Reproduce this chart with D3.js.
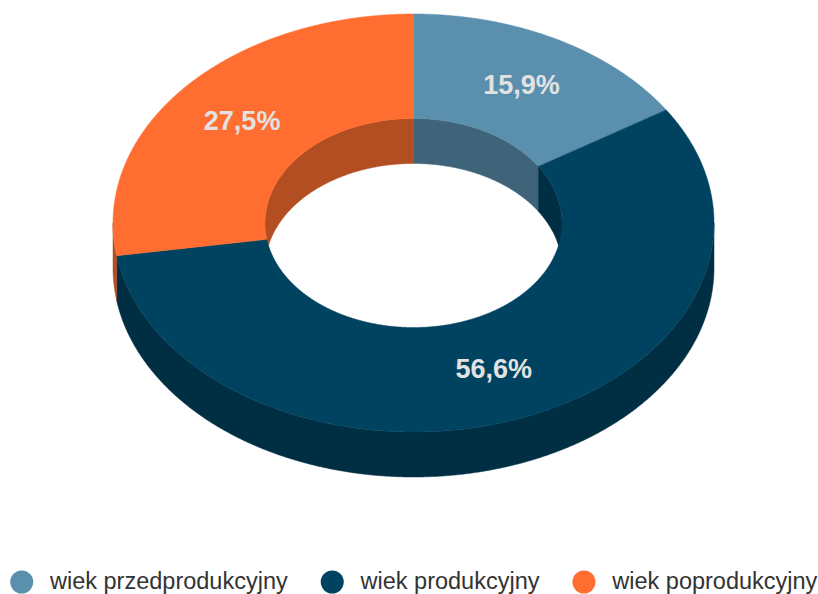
<!DOCTYPE html>
<html>
<head>
<meta charset="utf-8">
<script src="https://cdn.jsdelivr.net/npm/d3@7"></script>
<style>
  html, body { margin: 0; padding: 0; background: #ffffff; }
  svg { display: block; }
</style>
</head>
<body>
<svg id="chart" width="818" height="594"></svg>
<script>
// ---- data ----
const categories = ["wiek przedprodukcyjny", "wiek produkcyjny", "wiek poprodukcyjny"];
const values = [15.9, 56.6, 27.5];
const palette = ["#5a8fad", "#004360", "#ff6e30"];

// ---- layout ----
const W = 818, H = 594;
const cx = 413.5, cy = 223;
const rx = 300.5, ry = 209;
const depth = 45;
const irx = 148.5, iry = 104.5;

const svg = d3.select("#chart");
const color = d3.scaleOrdinal().domain(categories).range(palette);

const pie = d3.pie().sort(null).value(d => d.value);
const data = categories.map((c, i) => ({ name: c, value: values[i] }));
const arcs = pie(data);

const fmt = v => d3.format(".1f")(v).replace(".", ",") + "%";
const total = d3.sum(values);

function pts(ex, ey, a0, a1, dy) {
  const n = Math.max(2, Math.ceil(Math.abs(a1 - a0) / 0.005));
  return d3.range(n + 1).map(i => {
    const a = a0 + (a1 - a0) * i / n;
    return [cx + ex * Math.sin(a), cy - ey * Math.cos(a) + dy];
  });
}
const line = d3.line();

function topPath(d) {
  const p = pts(rx, ry, d.startAngle, d.endAngle, 0)
    .concat(pts(irx, iry, d.endAngle, d.startAngle, 0));
  return line(p) + "Z";
}
function outerWall(d) {
  const a = Math.max(d.startAngle, Math.PI / 2), b = Math.min(d.endAngle, 3 * Math.PI / 2);
  if (a >= b) return null;
  return line(pts(rx, ry, a, b, 0).concat(pts(rx, ry, b, a, depth))) + "Z";
}
function innerWalls(d) {
  const out = [];
  [[0, Math.PI / 2], [3 * Math.PI / 2, 2 * Math.PI]].forEach(([lo, hi]) => {
    const a = Math.max(d.startAngle, lo), b = Math.min(d.endAngle, hi);
    if (a < b) out.push(line(pts(irx, iry, a, b, 0).concat(pts(irx, iry, b, a, depth))) + "Z");
  });
  return out;
}

const g = svg.append("g");

// inner walls (back)
arcs.forEach(d => {
  const c = d3.color(color(d.data.name)).darker(1);
  innerWalls(d).forEach(p => {
    g.append("path").attr("d", p).attr("fill", c).attr("stroke", c).attr("stroke-width", 0.5);
  });
});
// outer walls (front)
arcs.forEach(d => {
  const p = outerWall(d);
  if (!p) return;
  const c = d3.color(color(d.data.name)).darker(1);
  g.append("path").attr("d", p).attr("fill", c).attr("stroke", c).attr("stroke-width", 0.5);
});
// top surfaces
arcs.forEach(d => {
  const c = color(d.data.name);
  g.append("path").attr("d", topPath(d)).attr("fill", c).attr("stroke", c).attr("stroke-width", 0.5);
});
// labels
const midF = 0.75;
arcs.forEach(d => {
  const a = (d.startAngle + d.endAngle) / 2;
  g.append("text")
    .attr("x", cx + rx * midF * Math.sin(a))
    .attr("y", cy - ry * midF * Math.cos(a))
    .attr("text-anchor", "middle")
    .attr("dominant-baseline", "central")
    .attr("font-family", "'Liberation Sans', Arial, sans-serif")
    .attr("font-weight", "bold")
    .attr("font-size", 27)
    .attr("fill", "#e2e2e2")
    .text(fmt(d.data.value / total * 100));
});

// legend
const leg = svg.append("g");
let x = 21.7;
categories.forEach((c, i) => {
  leg.append("circle").attr("cx", x).attr("cy", 582).attr("r", 11.5).attr("fill", color(c));
  const t = leg.append("text")
    .attr("x", x + 28.3)
    .attr("y", 588.5)
    .attr("font-family", "'Liberation Sans', Arial, sans-serif")
    .attr("font-size", 23.5)
    .attr("fill", "#333333")
    .text(c);
  const w = t.node().getComputedTextLength();
  x = x + 28.3 + w + 44.5;
});
</script>
</body>
</html>
